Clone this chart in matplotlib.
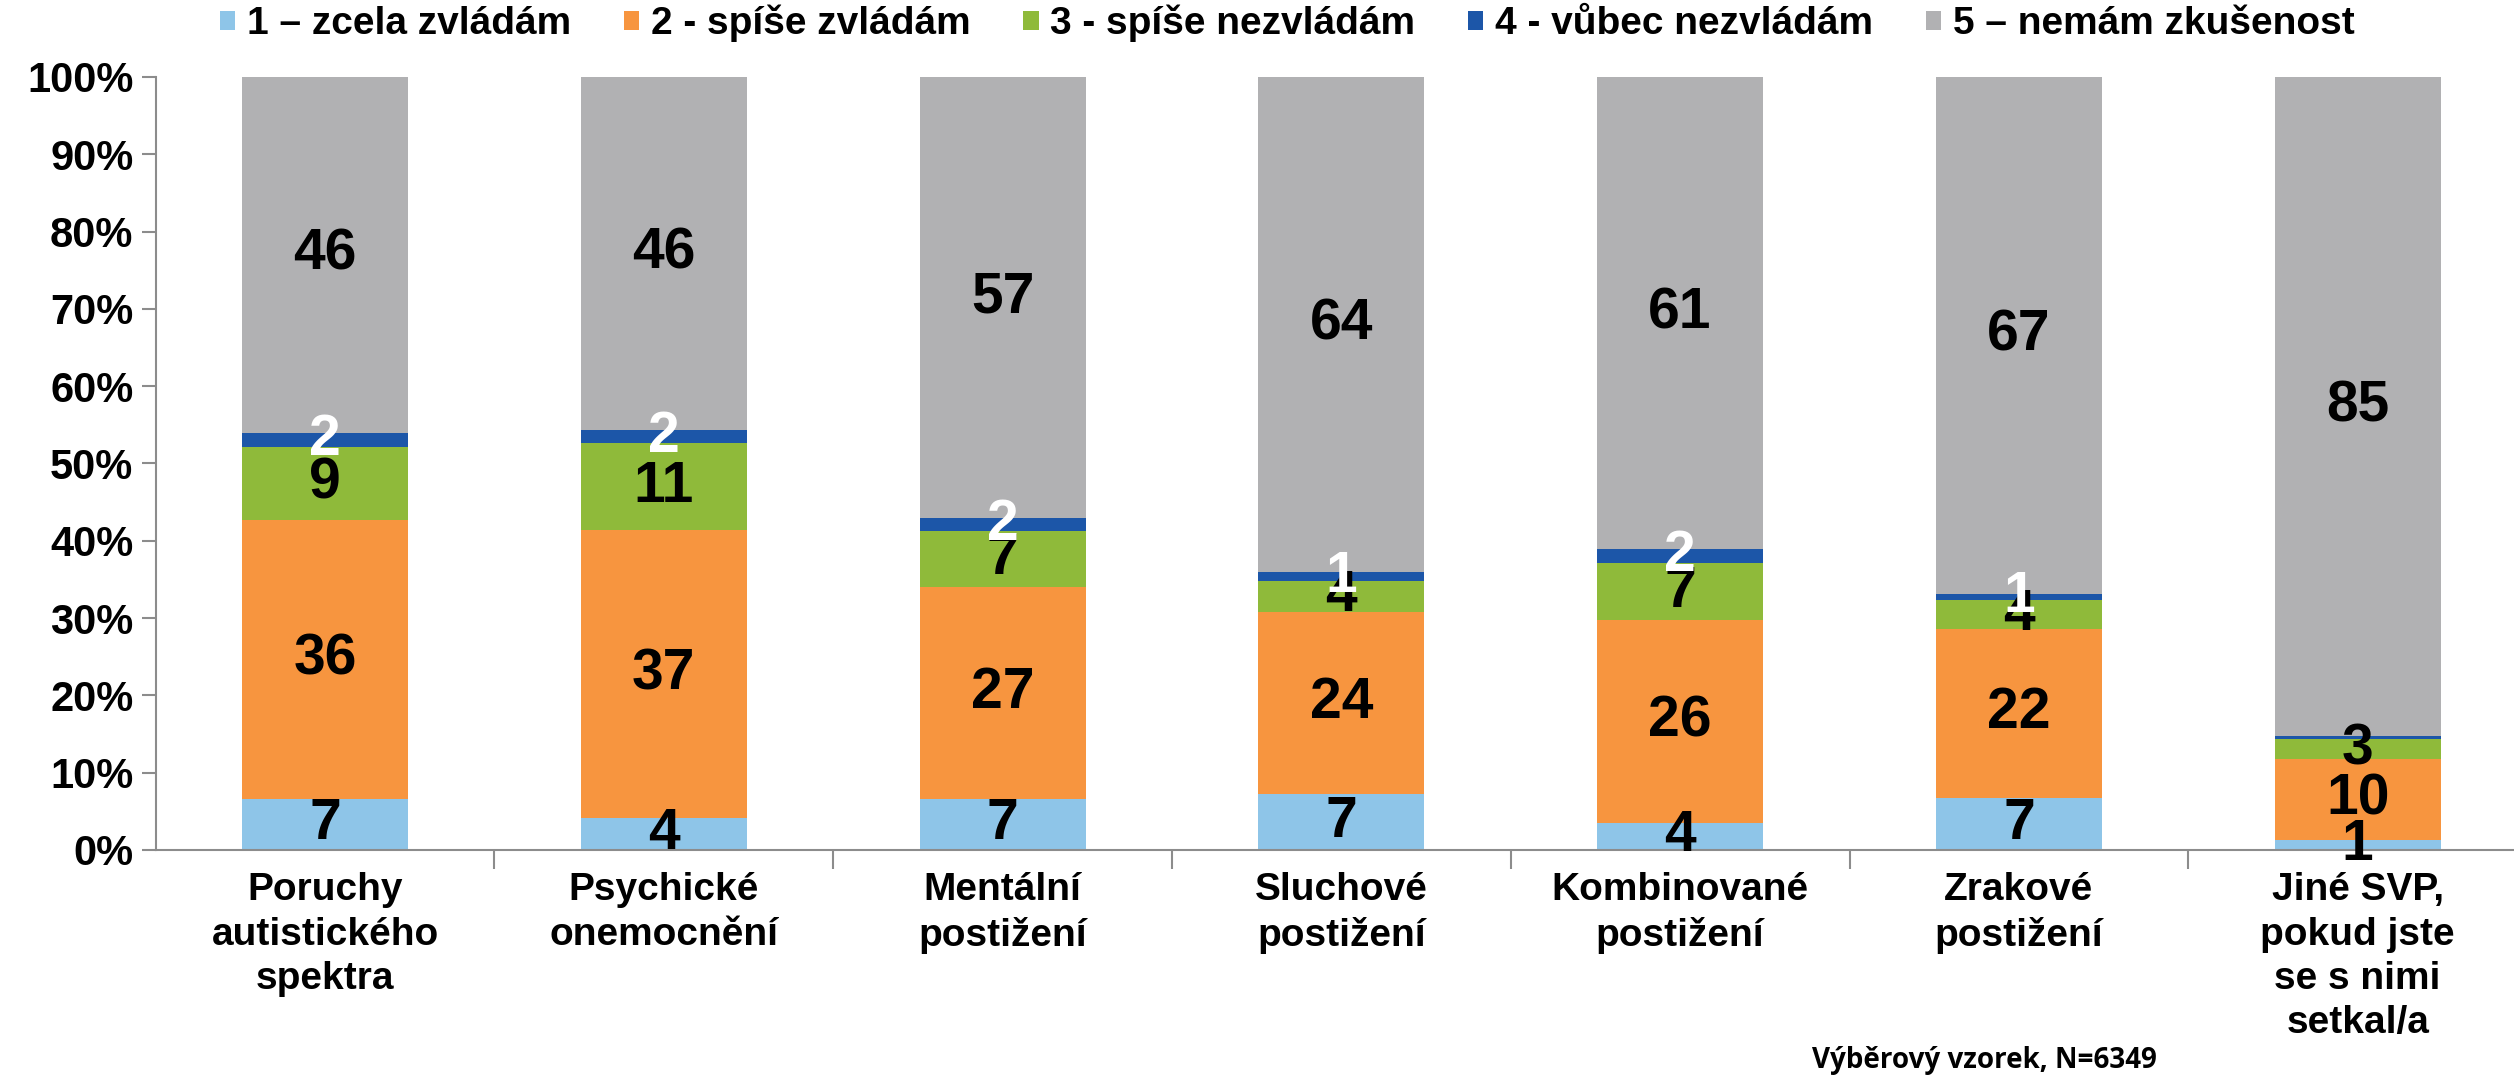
import matplotlib
matplotlib.use("Agg")
import matplotlib.pyplot as plt
from matplotlib.patches import Patch
import numpy as np

plt.rcParams['font.family'] = ['Liberation Sans', 'DejaVu Sans']

categories = ["Poruchy\nautistického\nspektra", "Psychické\nonemocnění", "Mentální\npostižení",
              "Sluchové\npostižení", "Kombinované\npostižení", "Zrakové\npostižení",
              "Jiné SVP,\npokud jste\nse s nimi\nsetkal/a"]
series_names = ["1 – zcela zvládám", "2 - spíše zvládám", "3 - spíše nezvládám",
                "4 - vůbec nezvládám", "5 – nemám zkušenost"]
s1 = [6.6, 4.1, 6.6, 7.2, 3.5, 6.7, 1.3]
s2 = [36.1, 37.3, 27.4, 23.6, 26.2, 21.9, 10.4]
s3 = [9.4, 11.2, 7.2, 4.0, 7.4, 3.7, 2.6]
s4 = [1.9, 1.7, 1.7, 1.1, 1.8, 0.8, 0.45]
s5 = [46.0, 45.7, 57.1, 64.1, 61.1, 66.9, 85.25]
yticks = [0, 10, 20, 30, 40, 50, 60, 70, 80, 90, 100]
note = "Výběrový vzorek, N=6349"

colors = ['#8EC5E8', '#F7953F', '#8FBA3A', '#1C56A8', '#B1B1B3']
label_colors = ['black', 'black', 'black', 'white', 'black']

fig = plt.figure(figsize=(25.14, 10.76), dpi=100)
ax = fig.add_axes([0.0619, 0.2101, 0.9433, 0.7184])

x = np.arange(len(categories))
series = [s1, s2, s3, s4, s5]
bottom = np.zeros(len(categories))
for vals, col, lc in zip(series, colors, label_colors):
    vals = np.array(vals)
    ax.bar(x, vals, bottom=bottom, width=0.49, color=col, edgecolor='none')
    for xi, b, v in zip(x, bottom, vals):
        r = int(round(v))
        if r > 0:
            ax.text(xi, b + v / 2, str(r), ha='center', va='center', color=lc,
                    fontsize=41, fontweight='bold')
    bottom += vals

ax.set_xlim(-0.5, len(categories) - 0.5)
ax.set_ylim(0, 100)
ax.set_yticks(yticks)
ax.set_yticklabels([f"{t}%" for t in yticks], fontsize=30, fontweight='bold')
ax.set_xticks(x)
ax.set_xticklabels(categories, fontsize=28, fontweight='bold', linespacing=1.3, va='top')
ax.set_xticks(np.arange(len(categories)) + 0.5, minor=True)
ax.tick_params(axis='x', which='major', length=0, pad=16)
ax.tick_params(axis='x', which='minor', length=14, color='#8C8C8C', width=1.5, direction='out')
ax.tick_params(axis='y', length=10, color='#8C8C8C', width=1.5, pad=6)
for s in ['top', 'right']:
    ax.spines[s].set_visible(False)
for s in ['left', 'bottom']:
    ax.spines[s].set_color('#8C8C8C')
    ax.spines[s].set_linewidth(1.5)

handles = [Patch(facecolor=c, edgecolor='none') for c in colors]
fig.legend(handles, series_names, loc='center', bbox_to_anchor=(0.512, 0.978), ncol=5,
           frameon=False, prop={'weight': 'bold', 'size': 28},
           handlelength=0.4, handleheight=0.4, handletextpad=0.3, columnspacing=1.35)

fig.text(0.858, 0.014, note, ha='right', va='center', fontsize=20, fontweight='bold',
         family=['Open Sans', 'DejaVu Sans'])

fig.savefig("out.png", dpi=100)
